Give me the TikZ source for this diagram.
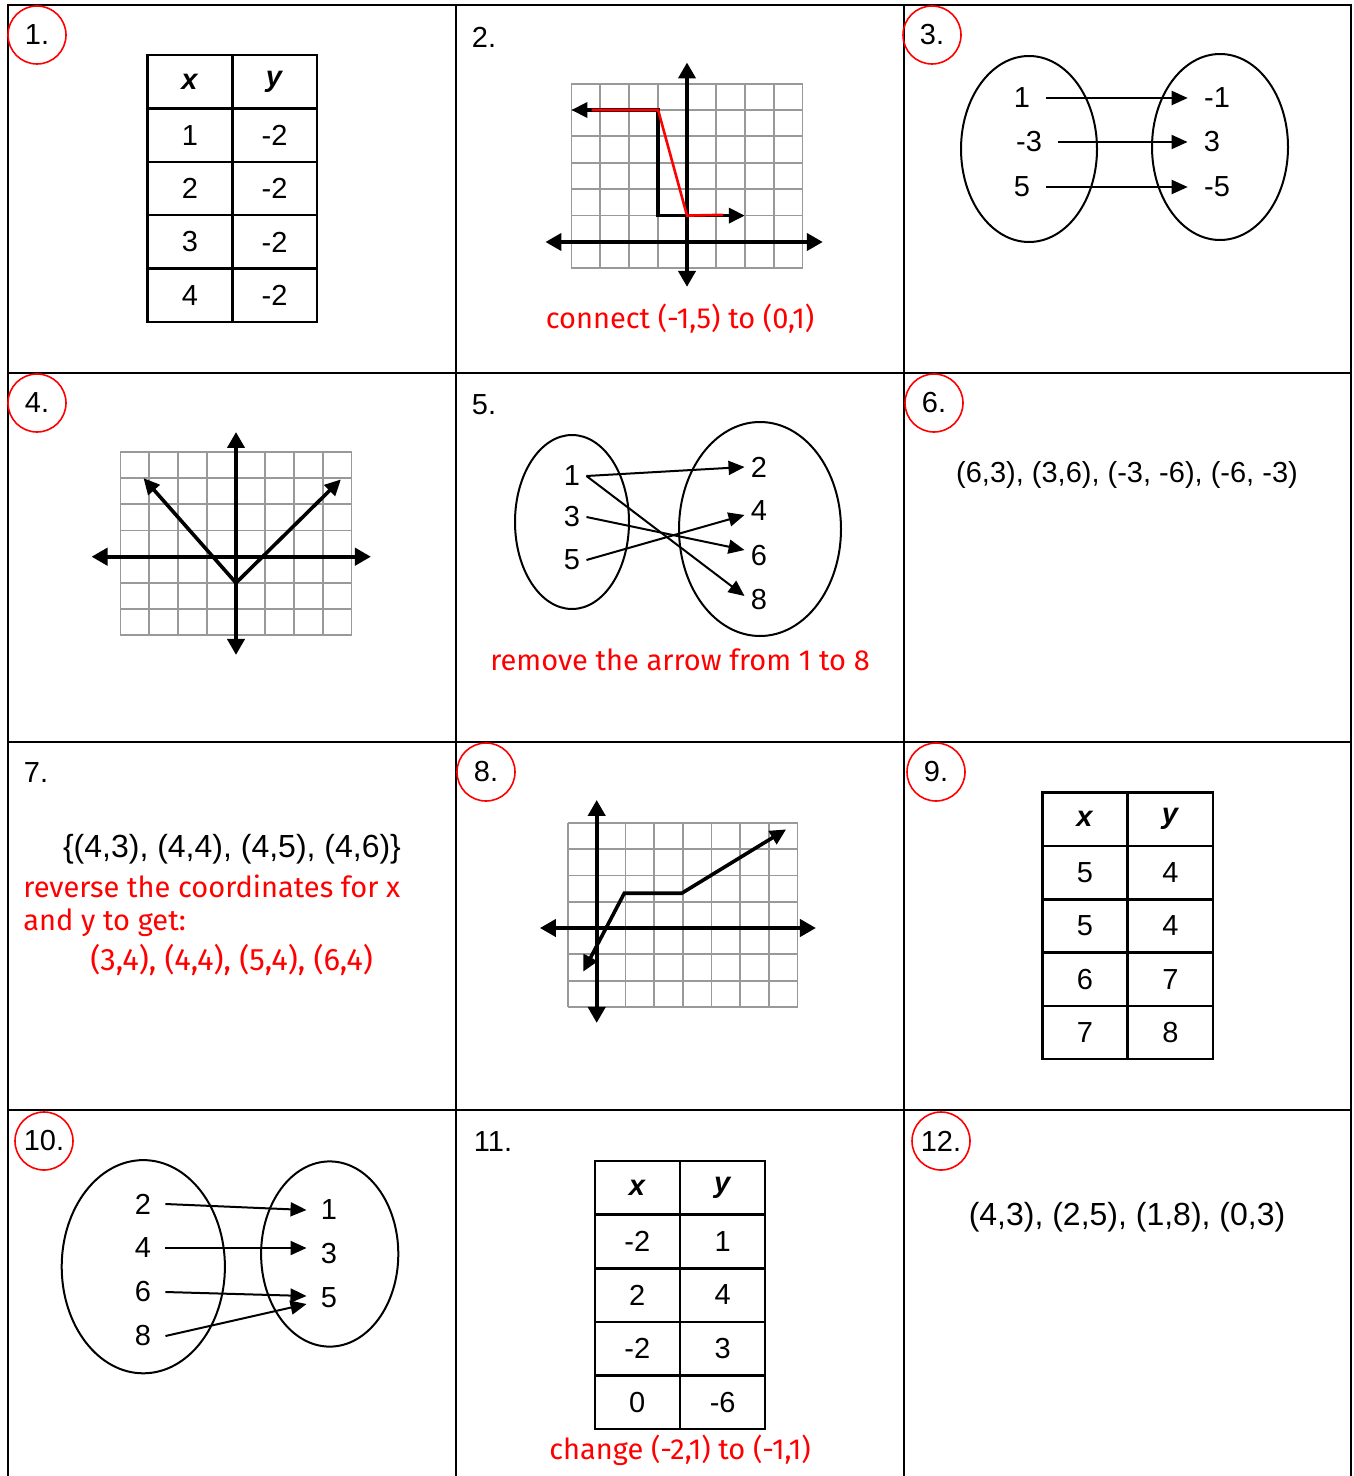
\documentclass[tikz,border=0pt]{standalone}
\usepackage{fontspec}
\setmainfont{Liberation Sans}
\newfontfamily\notefont{Fira Sans}
\usetikzlibrary{arrows.meta}

\newcommand{\colx}{\textbf{\textit{x}}}
\newcommand{\coly}{\textbf{\textit{y}}}

\begin{document}
\begin{tikzpicture}[
    x=0.5pt, y=-0.5pt,
    every node/.style={font=\fontsize{14.5}{17}\selectfont},
    frame/.style={line width=1pt},
    circled/.style={circle, draw=red, line width=0.8pt, minimum size=29pt, inner sep=0pt},
    note/.style={red, inner sep=0pt, font=\notefont\fontsize{14.5}{17}\selectfont},
    pairs/.style={font=\fontsize{16}{19}\selectfont},
    cell/.style={draw, line width=1.2pt, minimum width=42.5pt, minimum height=26.7pt, inner sep=0pt},
    gridline/.style={black!40, line width=0.9pt},
    axis/.style={line width=2pt, {Triangle[length=8pt,width=8.5pt]}-{Triangle[length=8pt,width=8.5pt]}},
    graphline/.style={line width=1.8pt, {Triangle[length=8pt,width=7.5pt]}-{Triangle[length=8pt,width=7.5pt]}},
    mapnode/.style={inner sep=8pt},
    maparrow/.style={line width=1pt, -{Triangle[length=8pt,width=7pt]}},
    oval/.style={line width=1pt}
  ]
  \useasboundingbox (0,0) rectangle (1353,1476);

  \draw[frame] (8,1476) -- (8,5) -- (1351,5) -- (1351,1476);
  \foreach \x in {456,904} \draw[frame] (\x,5) -- (\x,1476);
  \foreach \y in {373,742,1110} \draw[frame] (8,\y) -- (1351,\y);

  \node[circled] (n1) at (37,35) {1.};
  \node (n2) at (484,37) {2.};
  \node[circled] (n3) at (932,35) {3.};
  \node[circled] (n4) at (37,403) {4.};
  \node (n5) at (484,405) {5.};
  \node[circled] (n6) at (934,403) {6.};
  \node (n7) at (36,773) {7.};
  \node[circled] (n8) at (486,772) {8.};
  \node[circled] (n9) at (936,772) {9.};
  \node[circled] (n10) at (44,1141) {10.};
  \node (n11) at (493,1142) {11.};
  \node[circled] (n12) at (941,1141) {12.};

  \foreach \a/\b [count=\i] in {\colx/\coly, 1/-2, 2/-2, 3/-2, 4/-2} {
    \node[cell] (t1-\i-a) at (190, 28.3+53.4*\i) {\a};
    \node[cell] (t1-\i-b) at (274.5, 28.3+53.4*\i) {\b};
  }
  \foreach \a/\b [count=\i] in {\colx/\coly, 5/4, 5/4, 6/7, 7/8} {
    \node[cell] (t9-\i-a) at (1085, 766+53.3*\i) {\a};
    \node[cell] (t9-\i-b) at (1170.5, 766+53.3*\i) {\b};
  }
  \foreach \a/\b [count=\i] in {\colx/\coly, -2/1, 2/4, -2/3, 0/-6} {
    \node[cell] (t11-\i-a) at (637.3, 1134.2+53.6*\i) {\a};
    \node[cell] (t11-\i-b) at (722.7, 1134.2+53.6*\i) {\b};
  }

  \begin{scope}[shift={(687,242)}, x=14.45pt, y=13.2pt]
    \draw[gridline, step=1] (-4,-1) grid (4,6);
    \draw[axis] (-4.9,0) -- (4.7,0);
    \draw[axis] (0,-1.7) -- (0,6.8);
    \draw[graphline] (-4,5) -- (-1,5) -- (-1,1) -- (2,1);
    \draw[red, line width=1.3pt] (-3.3,5) -- (-1,5) -- (0,1) -- (1.25,1.03);
  \end{scope}
  \node[note] (note2) at (680,319) {connect (-1,5) to (0,1)};

  \begin{scope}[shift={(236,556.7)}, x=14.45pt, y=13.1pt]
    \draw[gridline, step=1] (-4,-3) grid (4,4);
    \draw[axis] (-5,0) -- (4.67,0);
    \draw[axis] (0,-3.75) -- (0,4.76);
    \draw[graphline] (-3.2,3) -- (0,-1) -- (3.63,2.95);
  \end{scope}

  \begin{scope}[shift={(596.7,928)}, x=14.35pt, y=13.15pt]
    \draw[gridline, step=1] (-1,-3) grid (7,4);
    \draw[axis] (-1.98,0) -- (7.64,0);
    \draw[axis] (0,-3.61) -- (0,4.87);
    \draw[graphline] (-0.47,-1.66) -- (0.96,1.32) -- (2.96,1.32) -- (6.6,3.75);
  \end{scope}

  \draw[oval] (1029,149) ellipse [x radius=34pt, y radius=46.5pt];
  \draw[oval] (1220,147) ellipse [x radius=34pt, y radius=46.5pt];
  \node[mapnode] (d1) at (1022,98) {1};
  \node[mapnode] (d2) at (1029,142) {-3};
  \node[mapnode] (d3) at (1022,187) {5};
  \node[mapnode] (r1) at (1217,98) {-1};
  \node[mapnode] (r2) at (1212,142) {3};
  \node[mapnode] (r3) at (1217,187) {-5};
  \draw[maparrow] (d1) -- (r1);
  \draw[maparrow] (d2) -- (r2);
  \draw[maparrow] (d3) -- (r3);

  \draw[oval] (572,522) ellipse [x radius=28.5pt, y radius=43.5pt];
  \draw[oval] (760,529) ellipse [x radius=40.5pt, y radius=53.5pt];
  \node[inner sep=3pt] (p1) at (572,476) {1};
  \node[inner sep=3pt] (p3) at (572,517) {3};
  \node[inner sep=3pt] (p5) at (572,560) {5};
  \node[inner sep=3pt] (q2) at (759,467) {2};
  \node[inner sep=3pt] (q4) at (759,511) {4};
  \node[inner sep=3pt] (q6) at (759,556) {6};
  \node[inner sep=3pt] (q8) at (759,600) {8};
  \draw[maparrow] (p1.east) -- (q2.west);
  \draw[maparrow] (p1.east) -- ([yshift=2pt]q8.west);
  \draw[maparrow] (p3.east) -- ([yshift=3pt]q6.west);
  \draw[maparrow] (p5.east) -- ([yshift=-2pt]q4.west);
  \node[note] (note5) at (680,660) {remove the arrow from 1 to 8};

  \node (set6) at (1127,475) {(6,3), (3,6), (-3, -6), (-6, -3)};

  \node[pairs] (set7) at (232,849) {\{(4,3), (4,4), (4,5), (4,6)\}};
  \node[note, anchor=west] (note7a) at (23,886) {reverse the coordinates for x};
  \node[note, anchor=west] (note7b) at (23,923) {and y to get:};
  \node[note, anchor=west, font=\notefont\fontsize{15.5}{18}\selectfont] (note7c) at (90,960) {(3,4), (4,4), (5,4), (6,4)};

  \draw[oval] (143.3,1266.7) ellipse [x radius=40.8pt, y radius=53.3pt];
  \draw[oval] (329.7,1254) ellipse [x radius=34.3pt, y radius=46.3pt];
  \node[inner sep=7pt] (s2) at (143,1204) {2};
  \node[inner sep=7pt] (s4) at (143,1248) {4};
  \node[inner sep=7pt] (s6) at (143,1292) {6};
  \node[inner sep=7pt] (s8) at (143,1336) {8};
  \node[inner sep=7pt] (u1) at (329,1210) {1};
  \node[inner sep=7pt] (u3) at (329,1254) {3};
  \node[inner sep=7pt] (u5) at (329,1298) {5};
  \draw[maparrow] (s2.east) -- (u1.west);
  \draw[maparrow] (s4.east) -- (s4.east -| u3.west);
  \draw[maparrow] (s6.east) -- ([yshift=1pt]u5.west);
  \draw[maparrow] (s8.east) -- ([yshift=-3pt]u5.west);

  \node[note] (note11) at (680,1450) {change (-2,1) to (-1,1)};
  \node[pairs] (set12) at (1127,1217) {(4,3), (2,5), (1,8), (0,3)};
\end{tikzpicture}
\end{document}
